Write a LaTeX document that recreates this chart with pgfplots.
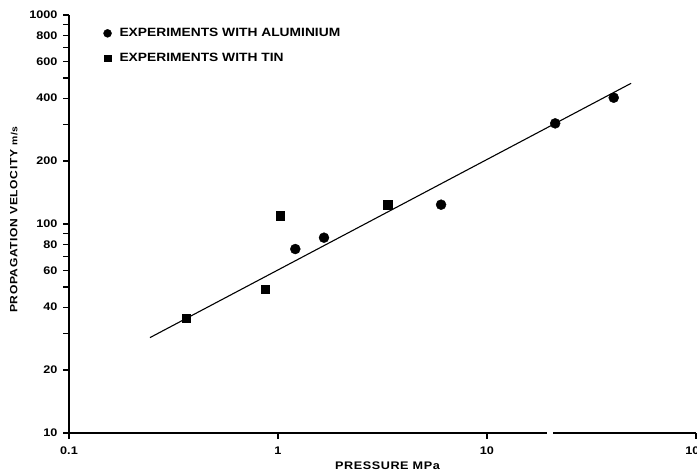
\documentclass[border=0pt]{standalone}
\usepackage{fontspec}
\setmainfont{Liberation Sans}
\newfontfamily\chartfont{Liberation Sans}[FakeStretch=1.15]
\usepackage{pgfplots}
\pgfplotsset{compat=1.18}

\begin{document}
\begin{tikzpicture}
\begin{axis}[
    scale only axis,
    width=627pt, height=418pt,
    xmode=log, ymode=log,
    xmin=0.1, xmax=100, ymin=10, ymax=1000,
    axis x line=bottom, axis y line=left,
    axis line style={-, line width=1.8pt},
    xtick={0.1,1,10,100},
    xticklabels={0.1,1,10,100},
    xminorticks=false,
    ytick={10,20,40,60,80,100,200,400,600,800,1000},
    yticklabels={10,20,40,60,80,100,200,400,600,800,1000},
    minor ytick={30,50,70,90,300,500,700,900},
    tick align=outside,
    major tick length=6pt, minor tick length=6pt,
    every tick/.style={black, line width=1.2pt},
    /pgf/number format/assume math mode=true,
    ticklabel style={font=\chartfont\bfseries\fontsize{11}{13}\selectfont},
    xticklabel style={yshift=-4pt},
    yticklabel style={xshift=-2pt},
    xlabel={PRESSURE MPa},
    ylabel={PROPAGATION VELOCITY {\fontsize{9}{10}\selectfont m/s}},
    xlabel style={font=\chartfont\bfseries\fontsize{11}{13}\selectfont\addfontfeature{LetterSpace=5},
        at={(axis description cs:0.508,-0.079)}, anchor=center},
    ylabel style={font=\chartfont\bfseries\fontsize{10.5}{12}\selectfont\addfontfeature{LetterSpace=6},
        at={(axis description cs:-0.088,0.51)}, anchor=center},
    legend style={at={(rel axis cs:0.05,0.978)}, anchor=north west, draw=none, fill=none,
        font=\chartfont\bfseries\fontsize{12}{14}\selectfont, row sep=11pt},
    legend cell align=left,
    legend image code/.code={\path[draw=none, fill=none] (0cm,0cm) -- (0.45cm,0cm);
        \draw[mark size=0.8\pgfplotmarksize] plot coordinates {(0.1cm,0cm)};},
    clip=false,
]
\addplot[only marks, mark=*, mark size=5pt, black] coordinates {
    (1.21,75.9) (1.66,86.0) (6.03,123.7) (21.2,303) (40.4,402)
};
\addlegendentry{EXPERIMENTS WITH ALUMINIUM}
\addplot[only marks, mark=square*, mark size=4.3pt, black] coordinates {
    (0.363,35.4) (0.867,48.7) (1.026,109.6) (3.36,123.3)
};
\addlegendentry{EXPERIMENTS WITH TIN}
\addplot[black, line width=1.1pt, forget plot] coordinates {
    (0.244,28.6) (48.9,471)
};
\coordinate (b1) at (axis cs:19.3,10);
\coordinate (b2) at (axis cs:20.6,10);
\end{axis}
\draw[white, line width=4pt] (b1) -- (b2);
\pgfresetboundingbox
\useasboundingbox (-69pt,-40pt) rectangle (628pt,433pt);
\end{tikzpicture}
\end{document}
